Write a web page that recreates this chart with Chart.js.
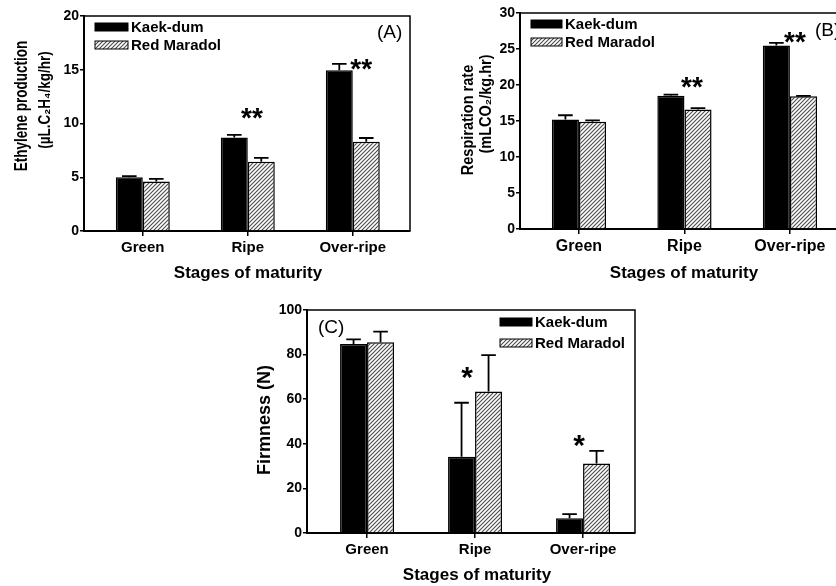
<!DOCTYPE html>
<html>
<head>
<meta charset="utf-8">
<script src="https://cdn.jsdelivr.net/npm/chart.js@4"></script>
<style>
html, body { margin: 0; padding: 0; background: #fff; overflow: hidden; }
#wrap { position: relative; width: 836px; height: 586px; overflow: hidden; }
canvas { position: absolute; }
</style>
</head>
<body>
<div id="wrap">
<canvas id="chartA" width="418" height="290" style="left:0;top:0"></canvas>
<canvas id="chartB" width="440" height="290" style="left:420px;top:0"></canvas>
<canvas id="chartC" width="420" height="296" style="left:220px;top:290px"></canvas>
</div>
<script>
var stages = ['Green', 'Ripe', 'Over-ripe'];
var cultivares = ['Kaek-dum', 'Red Maradol'];

// (A) etileno
var etilenoKaek = [5.0, 8.7, 14.95];
var etilenoKaekErr = [0.1, 0.25, 0.6];
var etilenoRed = [4.6, 6.45, 8.3];
var etilenoRedErr = [0.25, 0.35, 0.35];
var sigEtileno = ['', '**', '**'];

// (B) respiracion
var respKaek = [15.2, 18.5, 25.5];
var respKaekErr = [0.6, 0.15, 0.35];
var respRed = [14.9, 16.6, 18.45];
var respRedErr = [0.2, 0.2, 0.05];
var sigResp = ['', '**', '**'];

// (C) firmeza
var firmKaek = [84.7, 34.2, 6.6];
var firmKaekErr = [2.1, 24.2, 1.9];
var firmRed = [85.5, 63.4, 31.2];
var firmRedErr = [4.8, 16.4, 5.6];
var sigFirm = ['', '*', '*'];

var ticksA = [0, 5, 10, 15, 20];
var ticksB = [0, 5, 10, 15, 20, 25, 30];
var ticksC = [0, 20, 40, 60, 80, 100];

var fuente = "'Liberation Sans', Arial, sans-serif";

function rayado() {
    var c = document.createElement('canvas');
    c.width = 4; c.height = 4;
    var g = c.getContext('2d');
    g.fillStyle = '#fff';
    g.fillRect(0, 0, 4, 4);
    g.strokeStyle = '#4a4a4a';
    g.lineWidth = 1.1;
    g.beginPath();
    g.moveTo(-1, 5); g.lineTo(5, -1);
    g.moveTo(-1, 1); g.lineTo(1, -1);
    g.moveTo(3, 5); g.lineTo(5, 3);
    g.stroke();
    return g.createPattern(c, 'repeat');
}
var patron = rayado();

var extras = {
    id: 'extras',
    afterDraw: function (chart, args, o) {
        var ctx = chart.ctx, a = chart.chartArea, xs = chart.scales.x, ys = chart.scales.y;
        ctx.save();
        // marco superior y derecho
        ctx.strokeStyle = '#000';
        ctx.lineWidth = 1.5;
        ctx.beginPath();
        ctx.moveTo(a.left, a.top); ctx.lineTo(a.right, a.top); ctx.lineTo(a.right, a.bottom);
        ctx.stroke();

        // barras de error
        ctx.lineWidth = 1.8;
        o.errores.forEach(function (errs, d) {
            var meta = chart.getDatasetMeta(d);
            meta.data.forEach(function (bar, i) {
                var v = chart.data.datasets[d].data[i].y;
                var yt = ys.getPixelForValue(v + errs[i]);
                var hw = bar.width * 0.27;
                ctx.beginPath();
                ctx.moveTo(bar.x, bar.y); ctx.lineTo(bar.x, yt);
                ctx.moveTo(bar.x - hw, yt); ctx.lineTo(bar.x + hw, yt);
                ctx.stroke();
            });
        });

        // leyenda
        ctx.font = 'bold 15px ' + fuente;
        ctx.textBaseline = 'middle';
        ctx.textAlign = 'left';
        ctx.fillStyle = '#000';
        chart.data.datasets.forEach(function (ds, d) {
            var y = o.leyenda.y + d * o.leyenda.gap;
            ctx.fillStyle = ds.backgroundColor;
            ctx.fillRect(o.leyenda.x, y - 4, o.leyenda.w, 8);
            ctx.lineWidth = 1;
            ctx.strokeRect(o.leyenda.x, y - 4, o.leyenda.w, 8);
            ctx.fillStyle = '#000';
            ctx.fillText(ds.label, o.leyenda.x + o.leyenda.w + 3, y + 1);
        });

        // etiqueta del panel
        ctx.font = '19px ' + fuente;
        ctx.textAlign = 'left';
        ctx.fillText(o.panel.text, o.panel.x, o.panel.y);

        // asteriscos
        ctx.font = 'bold ' + o.estrellas.size + 'px ' + fuente;
        ctx.textAlign = 'center';
        ctx.textBaseline = 'alphabetic';
        o.estrellas.sig.forEach(function (s, i) {
            if (!s) return;
            var p = o.estrellas.pos[i];
            ctx.fillText(s, xs.getPixelForValue(p[0]), ys.getPixelForValue(p[1]) + o.estrellas.size * 0.57);
        });

        // titulos de ejes
        ctx.textBaseline = 'middle';
        ctx.font = 'bold 17px ' + fuente;
        ctx.fillText('Stages of maturity', o.tituloX.x, o.tituloX.y);
        o.tituloY.forEach(function (t) {
            ctx.save();
            ctx.font = 'bold ' + t.size + 'px ' + fuente;
            ctx.translate(t.x, t.y);
            ctx.rotate(-Math.PI / 2);
            ctx.scale(1, t.grosor || 1);
            ctx.fillText(t.text, 0, 0);
            ctx.restore();
        });
        ctx.restore();
    }
};

function crearPanel(id, c) {
    var puntos = function (arr) { return arr.map(function (v, i) { return { x: i, y: v }; }); };
    new Chart(document.getElementById(id), {
        type: 'bar',
        data: {
            datasets: [
                { label: cultivares[0], data: puntos(c.kaek), backgroundColor: '#000', borderColor: '#000', borderWidth: 1.5 },
                { label: cultivares[1], data: puntos(c.red), backgroundColor: patron, borderColor: '#000', borderWidth: 1.5 }
            ]
        },
        options: {
            responsive: false,
            animation: false,
            devicePixelRatio: 1,
            layout: { padding: c.pad },
            datasets: { bar: { barPercentage: 1, categoryPercentage: c.catPct } },
            plugins: {
                legend: { display: false },
                tooltip: { enabled: false },
                extras: {
                    errores: [c.kaekErr, c.redErr],
                    leyenda: c.leyenda,
                    panel: c.panel,
                    estrellas: c.estrellas,
                    tituloX: c.tituloX,
                    tituloY: c.tituloY
                }
            },
            scales: {
                x: {
                    type: 'linear',
                    offset: false,
                    min: c.xMin, max: c.xMax,
                    afterBuildTicks: function (s) { s.ticks = stages.map(function (_, i) { return { value: i }; }); },
                    afterFit: function (s) { s.height = c.xH; },
                    border: { display: true, color: '#000', width: 2 },
                    grid: { offset: false, drawOnChartArea: false, drawTicks: true, tickLength: 5, color: '#000', lineWidth: 1.5 },
                    ticks: { autoSkip: false, maxRotation: 0, padding: 3, color: '#000', font: { family: fuente, size: c.xFont, weight: 'bold' },
                        callback: function (v) { return stages[v]; } }
                },
                y: {
                    min: c.yTicks[0], max: c.yTicks[c.yTicks.length - 1],
                    afterFit: function (s) { s.width = c.yW; },
                    border: { display: true, color: '#000', width: 2 },
                    grid: { drawOnChartArea: false, drawTicks: true, tickLength: 4, color: '#000', lineWidth: 1.5 },
                    ticks: { stepSize: c.yTicks[1] - c.yTicks[0], padding: 1, color: '#000', font: { family: fuente, size: 14, weight: 'bold' } }
                }
            }
        },
        plugins: [extras]
    });
}

crearPanel('chartA', {
    kaek: etilenoKaek, kaekErr: etilenoKaekErr, red: etilenoRed, redErr: etilenoRedErr,
    yTicks: ticksA, xMin: -0.56, xMax: 2.545, catPct: 0.514,
    pad: { left: 0, top: 16, right: 8, bottom: 0 }, yW: 84, xH: 59, xFont: 15,
    leyenda: { x: 95, y: 27, gap: 18, w: 33 },
    panel: { text: '(A)', x: 377, y: 33 },
    estrellas: { size: 28, sig: sigEtileno, pos: [null, [1.04, 11.2], [2.08, 15.72]] },
    tituloX: { x: 248, y: 273 },
    tituloY: [
        { text: 'Ethylene production', x: 22, y: 106, size: 13.5, grosor: 1.4 },
        { text: '(\u00b5L.C\u2082H\u2084/kg/hr)', x: 45, y: 100, size: 13.5, grosor: 1.25 }
    ]
});

crearPanel('chartB', {
    kaek: respKaek, kaekErr: respKaekErr, red: respRed, redErr: respRedErr,
    yTicks: ticksB, xMin: -0.559, xMax: 2.56, catPct: 0.514,
    pad: { left: 0, top: 13, right: 11, bottom: 0 }, yW: 100, xH: 61, xFont: 16,
    leyenda: { x: 111, y: 24, gap: 18, w: 31 },
    panel: { text: '(B)', x: 395, y: 31 },
    estrellas: { size: 28, sig: sigResp, pos: [null, [1.071, 20.7], [2.048, 26.9]] },
    tituloX: { x: 264, y: 273 },
    tituloY: [
        { text: 'Respiration rate', x: 49, y: 120, size: 14.5, grosor: 1.1 },
        { text: '(mLCO\u2082/kg.hr)', x: 67, y: 104, size: 14.5, grosor: 1.1 }
    ]
});

crearPanel('chartC', {
    kaek: firmKaek, kaekErr: firmKaekErr, red: firmRed, redErr: firmRedErr,
    yTicks: ticksC, xMin: -0.556, xMax: 2.481, catPct: 0.5,
    pad: { left: 0, top: 20, right: 5, bottom: 0 }, yW: 87, xH: 53, xFont: 15,
    leyenda: { x: 280, y: 32, gap: 21, w: 32 },
    panel: { text: '(C)', x: 98, y: 38 },
    estrellas: { size: 30, sig: sigFirm, pos: [null, [0.926, 73.1], [1.963, 42.6]] },
    tituloX: { x: 257, y: 285 },
    tituloY: [
        { text: 'Firmness (N)', x: 45, y: 130, size: 18 }
    ]
});
</script>
</body>
</html>
